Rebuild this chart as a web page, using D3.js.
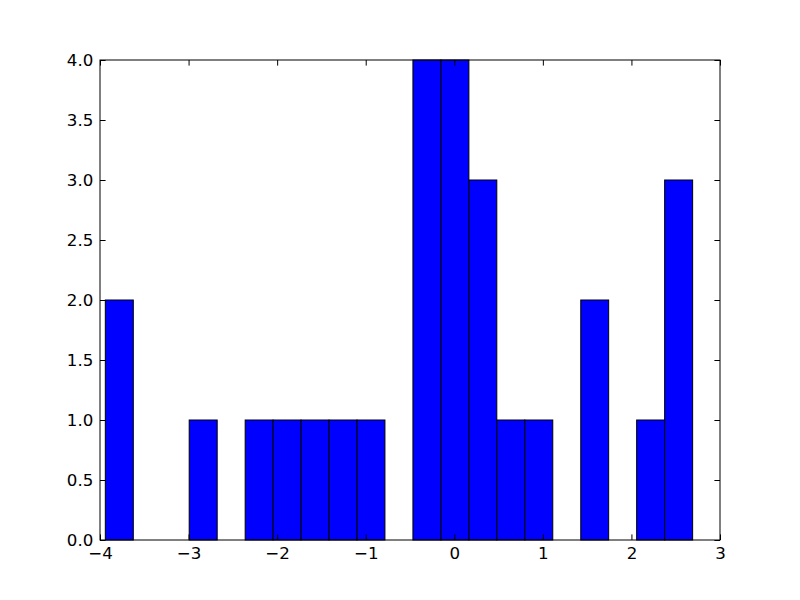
<!DOCTYPE html>
<html><head><meta charset="utf-8">
<script src="https://cdn.jsdelivr.net/npm/d3@7"></script>
<style>body{margin:0;background:#fff}svg{display:block}</style>
</head><body>
<svg id="c" width="800" height="600"></svg>
<script>
const binEdges = [-3.940, -3.624, -3.309, -2.993, -2.677, -2.361, -2.046, -1.730, -1.414, -1.098, -0.783, -0.467, -0.151, 0.165, 0.480, 0.796, 1.112, 1.428, 1.743, 2.059, 2.375, 2.691];
const counts = [2, 0, 0, 1, 0, 1, 1, 1, 1, 1, 0, 4, 4, 3, 1, 1, 0, 2, 0, 1, 3];
const xTicks = [-4, -3, -2, -1, 0, 1, 2, 3];
const yTicks = [0, 0.5, 1, 1.5, 2, 2.5, 3, 3.5, 4];

const svg = d3.select("#c");
const L = 100, R = 720, T = 60, B = 540;
const x = d3.scaleLinear().domain([-4, 3]).range([L, R]);
const y = d3.scaleLinear().domain([0, 4]).range([B, T]);
const font = "DejaVu Sans, sans-serif";
const fs = "16.67px";
const tick = 5.6;

const bins = counts.map((c, i) => ({x0: binEdges[i], x1: binEdges[i + 1], c}));
svg.append("g").selectAll("rect").data(bins.filter(d => d.c > 0)).join("rect")
  .attr("x", d => x(d.x0)).attr("width", d => x(d.x1) - x(d.x0))
  .attr("y", d => y(d.c)).attr("height", d => y(0) - y(d.c))
  .attr("fill", "#0000ff").attr("stroke", "#000").attr("stroke-width", 1);

const fmtX = d => (d < 0 ? "\u2212" + Math.abs(d) : String(d));
const fmtY = d3.format(".1f");

const axB = d3.axisBottom(x).tickValues(xTicks).tickSizeInner(-tick).tickSizeOuter(0).tickPadding(7.5).tickFormat(fmtX);
const axT = d3.axisTop(x).tickValues(xTicks).tickSizeInner(-tick).tickSizeOuter(0).tickFormat("");
const axL = d3.axisLeft(y).tickValues(yTicks).tickSizeInner(-tick).tickSizeOuter(0).tickPadding(6.7).tickFormat(fmtY);
const axR = d3.axisRight(y).tickValues(yTicks).tickSizeInner(-tick).tickSizeOuter(0).tickFormat("");

function style(g) {
  g.select(".domain").remove();
  g.selectAll("line").attr("stroke", "#000").attr("stroke-width", 1);
  g.selectAll("text").attr("font-family", font).attr("font-size", fs).attr("fill", "#000");
}
svg.append("g").attr("transform", `translate(0,${B})`).call(axB).call(style);
svg.append("g").attr("transform", `translate(0,${T})`).call(axT).call(style);
svg.append("g").attr("transform", `translate(${L},0)`).call(axL).call(style);
svg.append("g").attr("transform", `translate(${R},0)`).call(axR).call(style);

svg.append("rect").attr("x", L).attr("y", T).attr("width", R - L).attr("height", B - T)
  .attr("fill", "none").attr("stroke", "#000").attr("stroke-width", 1);
</script>
</body></html>
